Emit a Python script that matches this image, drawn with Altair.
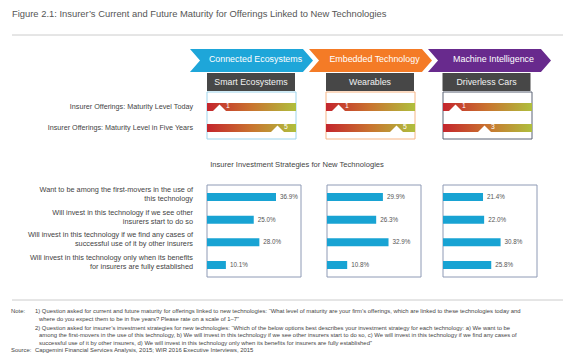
import altair as alt
import pandas as pd

# ---------------- data ----------------
title = "Figure 2.1: Insurer’s Current and Future Maturity for Offerings Linked to New Technologies"
groups = ["Connected Ecosystems", "Embedded Technology", "Machine Intelligence"]
techs = ["Smart Ecosystems", "Wearables", "Driverless Cars"]
maturity_rows = ["Insurer Offerings: Maturity Level Today",
                 "Insurer Offerings: Maturity Level in Five Years"]
maturity_today = [1, 1, 1]
maturity_five = [5, 5, 3]
section_title = "Insurer Investment Strategies for New Technologies"
strategies = [
    "Want to be among the first-movers in the use of\nthis technology",
    "Will invest in this technology if we see other\ninsurers start to do so",
    "Will invest in this technology if we find any cases of\nsuccessful use of it by other insurers",
    "Will invest in this technology only when its benefits\nfor insurers are fully established",
]
pct_smart = [36.9, 25.0, 28.0, 10.1]
pct_wear = [29.9, 26.3, 32.9, 10.8]
pct_cars = [21.4, 22.0, 30.8, 25.8]
pcts = [pct_smart, pct_wear, pct_cars]
note_heads = ["Note:", "", "", "", "", "Source:"]
note_lines = [
    "1) Question asked for current and future maturity for offerings linked to new technologies: “What level of maturity are your firm’s offerings, which are linked to these technologies today and",
    "where do you expect them to be in five years? Please rate on a scale of 1–7”",
    "2) Question asked for insurer’s investment strategies for new technologies: “Which of the below options best describes your investment strategy for each technology: a) We want to be",
    "among the first-movers in the use of this technology, b) We will invest in this technology if we see other insurers start to do so, c) We will invest in this technology if we find any cases of",
    "successful use of it by other insurers, d) We will invest in this technology only when its benefits for insurers are fully established”",
    "Capgemini Financial Services Analysis, 2015; WIR 2016 Executive Interviews, 2015",
]

# ---------------- styles / layout ----------------
FONT = "Liberation Sans"
TXT = "#444444"
group_colors = ["#1ea6d9", "#f47b26", "#682a8d"]
frame_colors = ["#9dd4ec", "#f7b584", "#5b6274"]
BAR = "#18a3d3"
W, H = 555, 345

chev_x = [243.5, 362.5, 481.5]
chev_y = 52.5
CHEVRON = "M -1 -0.187 L 0.837 -0.187 L 1 0 L 0.837 0.187 L -1 0.187 L -0.837 0 Z"
box_x = [243, 362, 478.5]
box_y = 74
BOX = "M -1 -0.2045 L 1 -0.2045 L 1 0.2045 L -1 0.2045 Z"
TRI = "M 0 -0.38 L 1 0.62 L -1 0.62 Z"
mat_left = [199, 318, 435]
mat_w = 89
bar_left = [199, 319, 435]
bar_w = 94
BAR_H = 8

GRAD = alt.LinearGradient(
    gradient="linear",
    stops=[alt.GradientStop(color="#c4252d", offset=0),
           alt.GradientStop(color="#c9742f", offset=0.5),
           alt.GradientStop(color="#afbf3d", offset=1)],
    x1=0, x2=1, y1=0, y2=0)

# row scales (row index -> pixel centre)
mat_y = alt.Scale(domain=[0, 1], range=[99, 120], nice=False, zero=False, padding=0)
str_y = alt.Scale(domain=[0, 3], range=[189, 257], nice=False, zero=False, padding=0)

mat_df_rows = pd.DataFrame({"row": maturity_rows, "ri": list(range(len(maturity_rows)))})
str_df_rows = pd.DataFrame({"strategy": strategies, "si": list(range(len(strategies)))})

layers = []

def one():
    return alt.Chart(pd.DataFrame({"k": [0]}))

# title + rule
layers.append(alt.Chart(pd.DataFrame({"t": [title]})).mark_text(
    align="left", baseline="alphabetic", fontSize=9.4, color="#555555", font=FONT
).encode(text="t:N", x=alt.value(4), y=alt.value(8.5)))
layers.append(one().mark_rule(color="#cccccc", strokeWidth=1).encode(
    x=alt.value(4), x2=alt.value(555), y=alt.value(27)))

# chevrons
for i, g in enumerate(groups):
    df = pd.DataFrame({"group": [g]})
    layers.append(alt.Chart(df).mark_point(shape=CHEVRON, filled=True, opacity=1, strokeWidth=0).encode(
        x=alt.value(chev_x[i]), y=alt.value(chev_y),
        color=alt.Color("group:N", scale=alt.Scale(domain=groups, range=group_colors), legend=None),
        size=alt.value(123 ** 2)))
    layers.append(alt.Chart(df).mark_text(color="white", fontSize=8.9, font=FONT, dx=4, dy=-1.5).encode(
        x=alt.value(chev_x[i]), y=alt.value(chev_y), text="group:N"))

# dark tech boxes
for i, t in enumerate(techs):
    df = pd.DataFrame({"tech": [t]})
    layers.append(alt.Chart(df).mark_point(shape=BOX, filled=True, opacity=1, strokeWidth=0,
                                           color="#474747").encode(
        x=alt.value(box_x[i]), y=alt.value(box_y), size=alt.value(88 ** 2)))
    layers.append(alt.Chart(df).mark_text(color="#f2f2f2", fontSize=8.8, font=FONT).encode(
        x=alt.value(box_x[i]), y=alt.value(box_y), text="tech:N"))

# maturity panels
for i, t in enumerate(techs):
    l = mat_left[i]
    layers.append(one().mark_rect(fillOpacity=0, stroke=frame_colors[i], strokeWidth=1).encode(
        x=alt.value(l), x2=alt.value(l + mat_w), y=alt.value(84), y2=alt.value(131)))
    df = mat_df_rows.assign(value=[maturity_today[i], maturity_five[i]])
    layers.append(alt.Chart(df).mark_bar(color=GRAD, orient="horizontal", height=BAR_H).encode(
        x=alt.value(l), x2=alt.value(l + mat_w),
        y=alt.Y("ri:Q", scale=mat_y, axis=None)))
    xs = alt.Scale(domain=[1, 7], range=[l + 12.5, l + 99.5], nice=False, zero=False)
    layers.append(alt.Chart(df).mark_point(shape=TRI, filled=True, opacity=1, strokeWidth=0,
                                           color="white", size=169).encode(
        x=alt.X("value:Q", scale=xs, axis=None),
        y=alt.Y("ri:Q", scale=mat_y, axis=None)))
    layers.append(alt.Chart(df).mark_text(align="left", dx=6.5, dy=-1.5, color="white",
                                          fontSize=6.8, font=FONT).encode(
        x=alt.X("value:Q", scale=xs, axis=None),
        y=alt.Y("ri:Q", scale=mat_y, axis=None),
        text="value:Q"))

layers.append(alt.Chart(mat_df_rows).mark_text(
    align="right", fontSize=7.2, color=TXT, font=FONT).encode(
    x=alt.value(185), y=alt.Y("ri:Q", scale=mat_y, axis=None), text="row:N"))

# section title
layers.append(alt.Chart(pd.DataFrame({"t": [section_title]})).mark_text(
    fontSize=7.6, color=TXT, font=FONT).encode(text="t:N", x=alt.value(289), y=alt.value(157)))

# strategy bar panels
for i, t in enumerate(techs):
    l = bar_left[i]
    layers.append(one().mark_rect(fillOpacity=0, stroke="#8e9ab5", strokeWidth=1).encode(
        x=alt.value(l), x2=alt.value(l + bar_w), y=alt.value(177), y2=alt.value(269)))
    df = str_df_rows.assign(pct=pcts[i], label=[f"{v:.1f}%" for v in pcts[i]])
    xs = alt.Scale(domain=[0, 50], range=[l, l + 93.5], nice=False, padding=0)
    layers.append(alt.Chart(df).mark_bar(color=BAR, orient="horizontal", height=BAR_H).encode(
        x=alt.X("pct:Q", scale=xs, axis=None),
        y=alt.Y("si:Q", scale=str_y, axis=None)))
    layers.append(alt.Chart(df).mark_text(align="left", dx=4, fontSize=6.3, color="#555555",
                                          font=FONT).encode(
        x=alt.X("pct:Q", scale=xs, axis=None),
        y=alt.Y("si:Q", scale=str_y, axis=None),
        text="label:N"))

layers.append(alt.Chart(str_df_rows).mark_text(
    align="right", fontSize=7.3, color=TXT, font=FONT, lineBreak="\n", lineHeight=9, dy=-7).encode(
    x=alt.value(185), y=alt.Y("si:Q", scale=str_y, axis=None), text="strategy:N"))

# footnotes
layers.append(one().mark_rule(color="#cccccc", strokeWidth=1).encode(
    x=alt.value(4), x2=alt.value(555), y=alt.value(292)))
note_y = [302.5, 310.5, 319.5, 327, 334.5, 341.5]
note_x = [27, 31, 27, 31, 31, 27]
for j, line in enumerate(note_lines):
    if note_heads[j]:
        layers.append(alt.Chart(pd.DataFrame({"t": [note_heads[j]]})).mark_text(
            align="left", fontSize=5.9, color=TXT, font=FONT).encode(
            text="t:N", x=alt.value(3), y=alt.value(note_y[j])))
    layers.append(alt.Chart(pd.DataFrame({"t": [line]})).mark_text(
        align="left", fontSize=5.9, color=TXT, font=FONT).encode(
        text="t:N", x=alt.value(note_x[j]), y=alt.value(note_y[j])))

chart = alt.layer(*layers).resolve_scale(
    x="independent", y="independent", color="independent"
).properties(
    width=W, height=H, autosize=alt.AutoSizeParams(type="none"), padding=0
).configure_view(stroke=None)

chart.save("out.html", embed_options={"renderer": "svg", "actions": False})
